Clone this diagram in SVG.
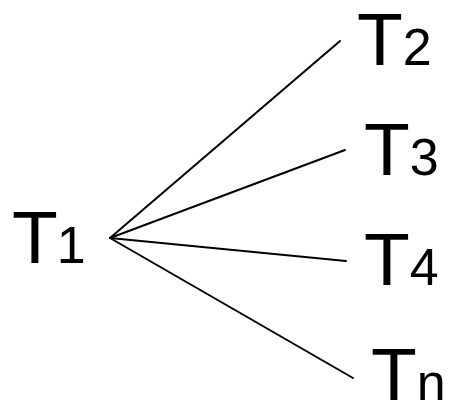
<svg xmlns="http://www.w3.org/2000/svg" width="449" height="403" viewBox="0 0 449 403">
<style>
.t{font-family:"Liberation Sans",Arial,sans-serif;fill:#000}
.m{font-size:75px}
.s{font-size:52px}
.c line{stroke:#000;stroke-width:2;stroke-linecap:round}
</style>
<rect width="449" height="403" fill="#fff"/>
<g class="c" id="connectors">
<line x1="110" y1="238" x2="340" y2="41"/>
<line x1="110" y1="238" x2="345" y2="150"/>
<line x1="110" y1="238" x2="346" y2="261"/>
<line x1="110" y1="238" x2="353" y2="378"/>
</g>
<g id="T1"><text class="t" x="12" y="263"><tspan class="m">T</tspan><tspan class="s" dx="-1">1</tspan></text></g>
<g id="T2"><text class="t" x="357" y="65"><tspan class="m">T</tspan><tspan class="s">2</tspan></text></g>
<g id="T3"><text class="t" x="364" y="175"><tspan class="m">T</tspan><tspan class="s">3</tspan></text></g>
<g id="T4"><text class="t" x="364" y="285"><tspan class="m">T</tspan><tspan class="s">4</tspan></text></g>
<g id="Tn"><text class="t" x="371" y="400"><tspan class="m">T</tspan><tspan class="s">n</tspan></text></g>
</svg>
